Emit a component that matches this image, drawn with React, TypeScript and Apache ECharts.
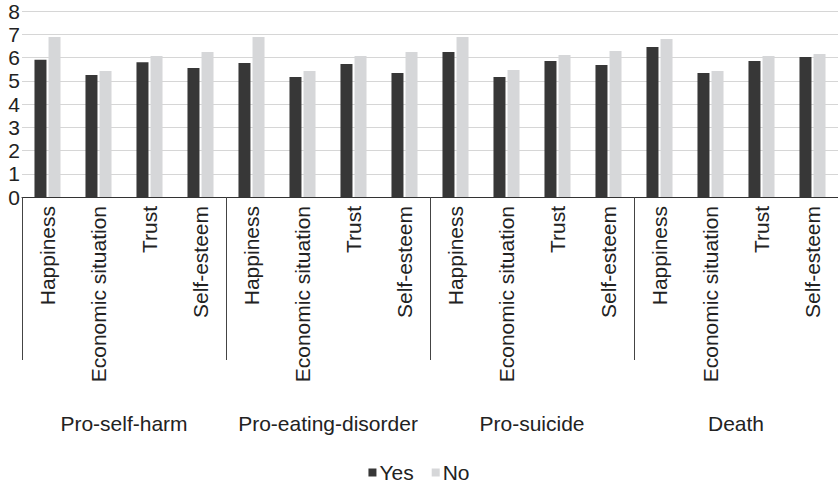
import React, { useEffect, useRef } from "react";
import * as echarts from "echarts";

const groups = ["Pro-self-harm", "Pro-eating-disorder", "Pro-suicide", "Death"];
const measures = ["Happiness", "Economic situation", "Trust", "Self-esteem"];
const categories = groups.flatMap(() => measures);
const yesValues = [5.9, 5.25, 5.8, 5.55, 5.76, 5.16, 5.72, 5.33, 6.24, 5.16, 5.85, 5.68, 6.45, 5.33, 5.85, 6.02];
const noValues = [6.88, 5.42, 6.06, 6.24, 6.88, 5.42, 6.06, 6.24, 6.88, 5.46, 6.11, 6.28, 6.8, 5.42, 6.06, 6.15];
const yTicks = { min: 0, max: 8, interval: 1 };

const FONT = "'Liberation Sans', Arial, Helvetica, sans-serif";
const TEXT = "#222222";

export default function App() {
  const ref = useRef<HTMLDivElement>(null);
  useEffect(() => {
    document.body.style.margin = "0";
    const chart = echarts.init(ref.current!, null, { renderer: "svg" });
    chart.setOption({
      animation: false,
      textStyle: { fontFamily: FONT },
      grid: { left: 22, right: -4, top: 11, bottom: 288, containLabel: false },
      legend: {
        data: ["Yes", "No"],
        left: "center",
        top: 462,
        padding: 0,
        itemWidth: 8,
        itemHeight: 8,
        itemGap: 18,
        icon: "rect",
        textStyle: { fontSize: 21, color: TEXT, fontFamily: FONT, padding: [0, 0, 0, -2] },
      },
      xAxis: [
        {
          type: "category",
          data: categories,
          boundaryGap: true,
          axisLine: { show: true, lineStyle: { color: "#333333", width: 1 } },
          axisTick: {
            show: true,
            interval: (index: number) => index % 4 === 0,
            length: 163,
            lineStyle: { color: "#444444", width: 1 },
          },
          axisLabel: {
            interval: 0,
            rotate: 90,
            margin: 9,
            fontSize: 21,
            color: TEXT,
            fontFamily: FONT,
            padding: [0, 0, 6, 0],
          },
          splitLine: { show: false },
        },
        {
          type: "category",
          data: groups,
          position: "bottom",
          offset: 216,
          axisLine: { show: false },
          axisTick: { show: false },
          axisLabel: { interval: 0, margin: 0, fontSize: 21, color: TEXT, fontFamily: FONT },
          splitLine: { show: false },
        },
      ],
      yAxis: {
        type: "value",
        min: yTicks.min,
        max: yTicks.max,
        interval: yTicks.interval,
        axisLine: { show: false },
        axisTick: { show: false },
        axisLabel: { margin: 2, fontSize: 21, color: TEXT, fontFamily: FONT },
        splitLine: { show: true, lineStyle: { color: "#d6d6d6", width: 1.2 } },
      },
      series: [
        {
          name: "Yes",
          type: "bar",
          data: yesValues,
          barWidth: 12,
          barGap: "17%",
          itemStyle: { color: "#373737" },
        },
        {
          name: "No",
          type: "bar",
          data: noValues,
          barWidth: 12,
          itemStyle: { color: "#d6d7d9" },
        },
      ],
    });
    return () => chart.dispose();
  }, []);
  return <div ref={ref} style={{ width: 838, height: 485 }} />;
}
